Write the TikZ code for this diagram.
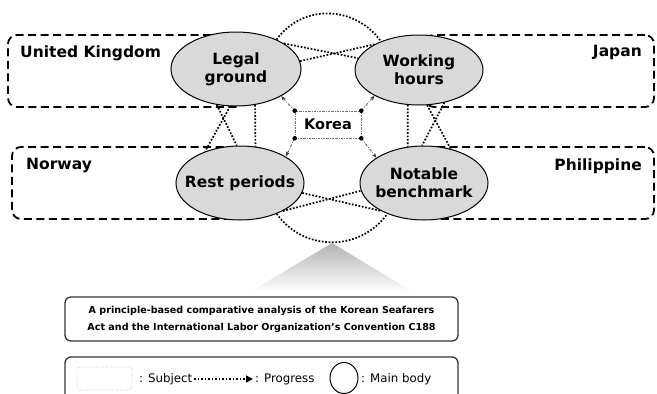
\documentclass[tikz,border=0pt]{standalone}
\usepackage{fontspec}
\setmainfont{DejaVu Sans}
\usetikzlibrary{shapes.geometric,arrows.meta}
\begin{document}
\begin{tikzpicture}[x=1pt,y=-1pt,
  country/.style={draw, line width=1.8pt, dash pattern=on 8pt off 4.5pt, rounded corners=9pt, minimum height=72pt, inner sep=0},
  body/.style={ellipse, draw, line width=1pt, fill=gray!30, inner sep=0},
  bodytext/.style={inner sep=0, align=center, font=\fontsize{15.5}{18}\selectfont\bfseries},
  ctext/.style={inner sep=0, font=\fontsize{15.5}{18}\selectfont\bfseries},
  prog/.style={line width=1.7pt, dash pattern=on 1.7pt off 1.7pt},
  karrow/.style={black!75, line width=0.7pt, dash pattern=on 3pt off 1.5pt on 0.8pt off 1.5pt, -{Stealth[length=5pt,width=4pt]}},
  legtext/.style={inner sep=0, anchor=west, font=\fontsize{11.8}{14}\selectfont},
  frame/.style={draw=black!80, line width=1.3pt, rounded corners=6pt, minimum width=393pt, inner sep=0},
]
\clip (0,0) rectangle (657,394);
\fill[white] (0,0) rectangle (657,394);

% subject boxes
\node[country, minimum width=237pt] (ukb) at (126.5,71) {};
\node[country, minimum width=233pt] (nob) at (128.5,183) {};
\node[country, minimum width=229pt] (jpb) at (539.5,71) {};
\node[country, minimum width=229pt] (phb) at (539.5,183) {};
\node[ctext, anchor=west] (uk) at (20,53) {United Kingdom};
\node[ctext, anchor=east] (jp) at (642,52) {Japan};
\node[ctext, anchor=west] (no) at (26,166) {Norway};
\node[ctext, anchor=east] (ph) at (642,166) {Philippine};

% gradient triangle
\shade[top color=black!30, bottom color=white] (332,243) -- (413,292) -- (250,292) -- cycle;

% main bodies
\node[body, minimum width=130pt, minimum height=74pt] (lg) at (236,69) {};
\node[body, minimum width=128pt, minimum height=70pt] (wh) at (419,70) {};
\node[body, minimum width=128pt, minimum height=74pt] (rp) at (240,183) {};
\node[body, minimum width=128pt, minimum height=74pt] (nb) at (424,183) {};
\node[bodytext] (lgt) at (lg) {Legal\\ground};
\node[bodytext] (wht) at (wh) {Working\\hours};
\node[bodytext] (rpt) at (rp) {Rest periods};
\node[bodytext] (nbt) at (nb) {Notable\\benchmark};

% progress connectors
\draw[prog] (lg.36) .. controls +(26,-36) and +(-26,-36) .. (wh.143);
\draw[prog] (lg.28) -- (wh.169);
\draw[prog] (lg.7) -- (wh.150);
\draw[prog] (rp.-40) .. controls +(27,38) and +(-27,38) .. (nb.220);
\draw[prog] (rp.-9) -- (nb.213);
\draw[prog] (rp.-33) -- (nb.187);
\draw[prog] (lg.-62) -- (rp.67);
\draw[prog] (lg.-118) -- (rp.95);
\draw[prog] (lg.-99) -- (rp.138);
\draw[prog] (wh.-108) -- (nb.114);
\draw[prog] (wh.-77) -- (nb.52);
\draw[prog] (wh.-52) -- (nb.93);

% Korea
\node[draw=black!55, line width=0.6pt, dash pattern=on 2pt off 1pt on 0.6pt off 1pt, minimum width=66pt, minimum height=27pt, inner sep=0, font=\fontsize{14.5}{17}\selectfont\bfseries] (k) at (328,124.5) {Korea};
\draw[karrow] (k.north west) -- (lg.-31);
\draw[karrow] (k.south west) -- (rp.30);
\draw[karrow] (k.north east) -- (wh.210);
\draw[karrow] (k.south east) -- (nb.152);
\foreach \c in {north west,south west,north east,south east}
  \fill (k.\c) circle (2.3pt);

% title
\node[frame, minimum height=44pt, align=center, font=\fontsize{9.6}{17}\selectfont\bfseries] (title) at (261.5,319)
  {A principle-based comparative analysis of the Korean Seafarers\\Act and the International Labor Organization's Convention C188};

% legend
\node[frame, minimum height=50pt] (leg) at (261.5,382) {};
\node[draw=gray, line width=0.5pt, dotted, rounded corners=3pt, minimum width=55pt, minimum height=23pt, inner sep=0] (subj) at (104.5,378.5) {};
\node[legtext] (subjt) at (139,379) {: Subject};
\coordinate (pa) at (194,379);
\coordinate (pb) at (253,379);
\draw[line width=1.5pt, dash pattern=on 1.5pt off 2pt, -{Triangle[length=7pt,width=7pt]}] (pa) -- (pb);
\node[legtext] (progt) at (255,379) {: Progress};
\node[draw, ellipse, line width=1pt, minimum width=28pt, minimum height=31pt, inner sep=0] (circ) at (344,378) {};
\node[legtext] (maint) at (361,379) {: Main body};
\end{tikzpicture}
\end{document}
